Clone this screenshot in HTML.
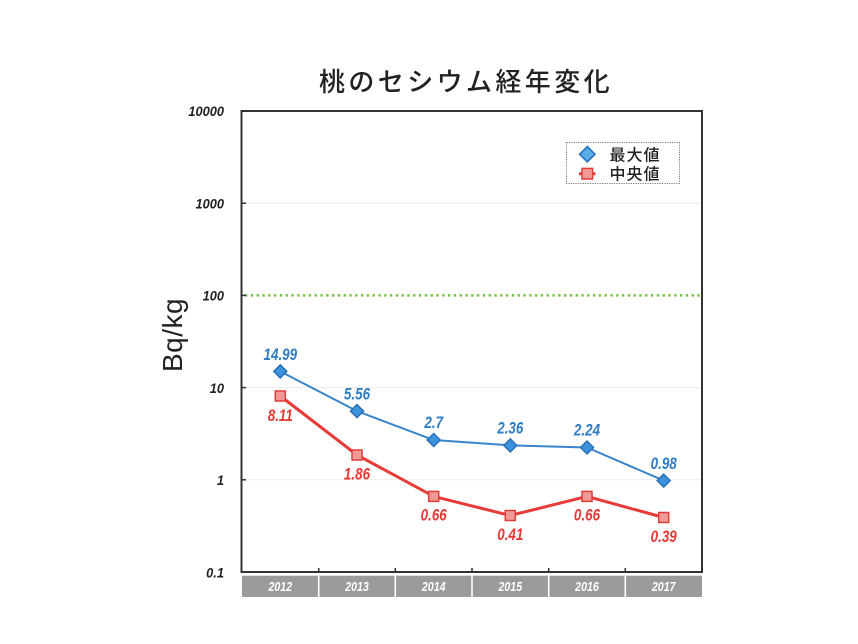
<!DOCTYPE html>
<html>
<head>
<meta charset="utf-8">
<style>
html,body{margin:0;padding:0;background:#fff;}
svg{display:block;}
</style>
</head>
<body>
<svg width="858" height="644" viewBox="0 0 858 644" xmlns="http://www.w3.org/2000/svg">
<rect x="0" y="0" width="858" height="644" fill="#fff"/>

<!-- Title -->
<text x="319" y="91" font-family="'Noto Sans CJK JP','Noto Sans CJK SC',sans-serif" font-size="26" font-weight="500" letter-spacing="3.4" fill="#222">桃のセシウム経年変化</text>

<!-- gridlines -->
<g stroke="#ececec" stroke-width="1">
<line x1="242" y1="203.2" x2="702" y2="203.2"/>
<line x1="242" y1="387.6" x2="702" y2="387.6"/>
<line x1="242" y1="479.8" x2="702" y2="479.8"/>
</g>

<!-- green dotted 100 line -->
<line x1="245" y1="295.4" x2="702" y2="295.4" stroke="#72c043" stroke-width="2.5" stroke-dasharray="2.3,3.5"/>

<!-- frame -->
<rect x="241.5" y="111" width="460.5" height="461" fill="none" stroke="#333" stroke-width="2"/>

<!-- left ticks -->
<g stroke="#333" stroke-width="1.5">
<line x1="242" y1="203.2" x2="246" y2="203.2"/>
<line x1="242" y1="295.4" x2="246" y2="295.4"/>
<line x1="242" y1="387.6" x2="246" y2="387.6"/>
<line x1="242" y1="479.8" x2="246" y2="479.8"/>
</g>
<!-- bottom ticks -->
<g stroke="#333" stroke-width="1.5">
<line x1="318.7" y1="572" x2="318.7" y2="568"/>
<line x1="395.3" y1="572" x2="395.3" y2="568"/>
<line x1="472" y1="572" x2="472" y2="568"/>
<line x1="548.7" y1="572" x2="548.7" y2="568"/>
<line x1="625.3" y1="572" x2="625.3" y2="568"/>
</g>

<!-- y tick labels -->
<g font-family="'Liberation Sans',sans-serif" font-size="13.5" font-weight="bold" font-style="italic" fill="#222" text-anchor="end">
<text transform="translate(224,116) scale(0.95,1)">10000</text>
<text transform="translate(224,208.4) scale(0.95,1)">1000</text>
<text transform="translate(224,300.6) scale(0.95,1)">100</text>
<text transform="translate(224,392.8) scale(0.95,1)">10</text>
<text transform="translate(224,485) scale(0.95,1)">1</text>
<text transform="translate(224,577.5) scale(0.95,1)">0.1</text>
</g>

<!-- y axis title -->
<text transform="translate(182,335) rotate(-90)" text-anchor="middle" font-family="'Liberation Sans',sans-serif" font-size="28" letter-spacing="0.5" fill="#222">Bq/kg</text>

<!-- category bar -->
<rect x="242" y="575.7" width="460" height="21.3" fill="#9b9b9b"/>
<g stroke="#fff" stroke-width="1.6">
<line x1="318.7" y1="575.7" x2="318.7" y2="597"/>
<line x1="395.3" y1="575.7" x2="395.3" y2="597"/>
<line x1="472" y1="575.7" x2="472" y2="597"/>
<line x1="548.7" y1="575.7" x2="548.7" y2="597"/>
<line x1="625.3" y1="575.7" x2="625.3" y2="597"/>
</g>
<g font-family="'Liberation Sans',sans-serif" font-size="13" font-weight="bold" font-style="italic" fill="#fff" text-anchor="middle">
<text transform="translate(280.3,591) scale(0.82,1)">2012</text>
<text transform="translate(357,591) scale(0.82,1)">2013</text>
<text transform="translate(433.7,591) scale(0.82,1)">2014</text>
<text transform="translate(510.3,591) scale(0.82,1)">2015</text>
<text transform="translate(587,591) scale(0.82,1)">2016</text>
<text transform="translate(663.7,591) scale(0.82,1)">2017</text>
</g>

<!-- series lines -->
<polyline points="280.3,371.4 357,411.1 433.7,440 510.3,445.4 587,447.5 663.7,480.6" fill="none" stroke="#3a84c9" stroke-width="2"/>
<polyline points="280.3,396 357,455 433.7,496.4 510.3,515.5 587,496.4 663.7,517.5" fill="none" stroke="#e63b36" stroke-width="3"/>

<!-- blue markers -->
<g fill="#3d92dc" stroke="#2a6fb8" stroke-width="1.5">
<polygon points="280.3,364.9 286.8,371.4 280.3,377.9 273.8,371.4"/>
<polygon points="357,404.6 363.5,411.1 357,417.6 350.5,411.1"/>
<polygon points="433.7,433.5 440.2,440 433.7,446.5 427.2,440"/>
<polygon points="510.3,438.9 516.8,445.4 510.3,451.9 503.8,445.4"/>
<polygon points="587,441 593.5,447.5 587,454 580.5,447.5"/>
<polygon points="663.7,474.1 670.2,480.6 663.7,487.1 657.2,480.6"/>
</g>
<!-- red markers -->
<g fill="#f09a98" stroke="#e03c3a" stroke-width="1.5">
<rect x="275.3" y="391" width="10" height="10"/>
<rect x="352" y="450" width="10" height="10"/>
<rect x="428.7" y="491.4" width="10" height="10"/>
<rect x="505.3" y="510.5" width="10" height="10"/>
<rect x="582" y="491.4" width="10" height="10"/>
<rect x="658.7" y="512.5" width="10" height="10"/>
</g>

<!-- data labels -->
<g font-family="'Liberation Sans',sans-serif" font-size="16.8" font-weight="bold" font-style="italic" fill="#2f7bc4" text-anchor="middle">
<text transform="translate(280.3,360) scale(0.8,1)">14.99</text>
<text transform="translate(357,399.3) scale(0.8,1)">5.56</text>
<text transform="translate(433.7,428.2) scale(0.8,1)">2.7</text>
<text transform="translate(510.3,433.6) scale(0.8,1)">2.36</text>
<text transform="translate(587,435.7) scale(0.8,1)">2.24</text>
<text transform="translate(663.7,468.8) scale(0.8,1)">0.98</text>
</g>
<g font-family="'Liberation Sans',sans-serif" font-size="16.8" font-weight="bold" font-style="italic" fill="#e53935" text-anchor="middle">
<text transform="translate(280.3,420.8) scale(0.8,1)">8.11</text>
<text transform="translate(357,479.5) scale(0.8,1)">1.86</text>
<text transform="translate(433.7,520.7) scale(0.8,1)">0.66</text>
<text transform="translate(510.3,539.8) scale(0.8,1)">0.41</text>
<text transform="translate(587,520.7) scale(0.8,1)">0.66</text>
<text transform="translate(663.7,541.8) scale(0.8,1)">0.39</text>
</g>

<!-- legend -->
<rect x="566.5" y="142.5" width="113" height="41" fill="#fff" stroke="#777" stroke-width="1" stroke-dasharray="1.2,1.2"/>
<polygon points="587.3,146.5 595,154.2 587.3,161.9 579.6,154.2" fill="#5aaee8" stroke="#2a74bf" stroke-width="1.6"/>
<line x1="579" y1="173.7" x2="595.5" y2="173.7" stroke="#e63b36" stroke-width="3"/>
<rect x="582" y="168.4" width="10.6" height="10.6" fill="#f09a98" stroke="#e03c3a" stroke-width="1.5"/>
<g font-family="'Noto Sans CJK JP',sans-serif" font-size="16" font-weight="500" fill="#222" letter-spacing="1">
<text x="609.5" y="160.5">最大値</text>
<text x="609.5" y="179.5">中央値</text>
</g>
</svg>
</body>
</html>
